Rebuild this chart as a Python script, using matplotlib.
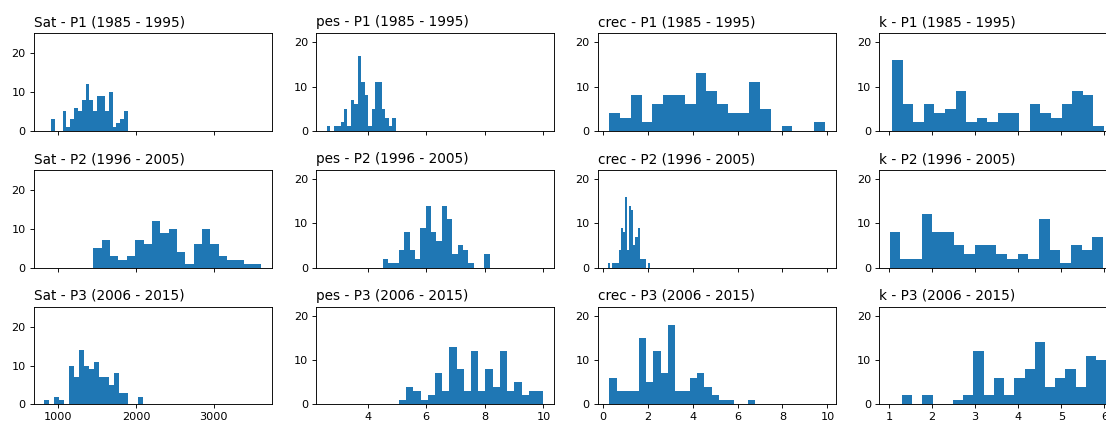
import matplotlib
matplotlib.use('Agg')
import matplotlib.pyplot as plt
import numpy as np

variables = ['Sat', 'pes', 'crec', 'k']
periods = ['P1 (1985 - 1995)', 'P2 (1996 - 2005)', 'P3 (2006 - 2015)']

# (min, max) of each sample and the 20 bin counts, per variable and period
sat_ranges = [(906, 1897), (1451, 3605), (820, 2094)]
sat_counts = [
    [3, 0, 0, 5, 1, 3, 6, 5, 8, 12, 8, 5, 9, 9, 5, 10, 1, 2, 3, 5],
    [5, 7, 3, 2, 3, 7, 6, 12, 9, 10, 4, 1, 6, 10, 6, 3, 2, 2, 1, 1],
    [1, 0, 2, 1, 0, 10, 7, 14, 10, 9, 11, 7, 7, 5, 8, 3, 3, 0, 0, 2],
]

pes_ranges = [(2.61, 4.96), (4.53, 8.16), (5.07, 9.99)]
pes_counts = [
    [1, 0, 1, 1, 2, 5, 1, 7, 6, 17, 11, 8, 1, 5, 11, 11, 5, 3, 1, 3],
    [2, 1, 1, 4, 8, 4, 2, 9, 14, 8, 6, 14, 11, 3, 5, 4, 1, 0, 0, 3],
    [1, 4, 3, 1, 2, 7, 3, 13, 8, 3, 12, 3, 8, 4, 12, 3, 5, 2, 3, 3],
]

crec_ranges = [(0.30, 9.88), (0.25, 2.11), (0.30, 6.80)]
crec_counts = [
    [4, 3, 8, 2, 6, 8, 8, 6, 13, 9, 6, 4, 4, 11, 5, 0, 1, 0, 0, 2],
    [1, 0, 1, 1, 1, 4, 9, 8, 16, 4, 14, 13, 5, 7, 9, 2, 2, 2, 0, 1],
    [6, 3, 3, 3, 15, 5, 12, 7, 18, 3, 3, 6, 7, 4, 2, 1, 1, 0, 0, 1],
]

k_ranges = [(1.076, 5.99), (1.023, 5.97), (1.305, 6.04)]
k_counts = [
    [16, 6, 2, 6, 4, 5, 9, 2, 3, 2, 4, 4, 0, 6, 4, 3, 6, 9, 8, 1],
    [8, 2, 2, 12, 8, 8, 5, 3, 5, 5, 3, 2, 3, 2, 11, 4, 1, 5, 4, 7],
    [2, 0, 2, 0, 0, 1, 2, 12, 2, 6, 2, 6, 8, 14, 4, 6, 8, 4, 11, 10],
]

xticks = [[1000, 2000, 3000], [4, 6, 8, 10], [0, 2, 4, 6, 8, 10], [1, 2, 3, 4, 5, 6]]

ranges = [sat_ranges, pes_ranges, crec_ranges, k_ranges]
counts = [sat_counts, pes_counts, crec_counts, k_counts]
ylims = [25.2, 22.05, 22.05, 22.05]

W, H = 1106, 421
fig = plt.figure(figsize=(W / 100, H / 100), dpi=100)

col_left = [33.5, 316, 597.5, 879]
row_top = [33.3, 170, 306.8]
ax_w, ax_h = 238, 97.5

for c, var in enumerate(variables):
    first = None
    for r, period in enumerate(periods):
        rect = [col_left[c] / W, 1 - (row_top[r] + ax_h) / H, ax_w / W, ax_h / H]
        ax = fig.add_axes(rect, sharex=first, sharey=first)
        if first is None:
            first = ax
        lo, hi = ranges[c][r]
        edges = np.linspace(lo, hi, len(counts[c][r]) + 1)
        ax.hist(edges[:-1], bins=edges, weights=counts[c][r], color='#1f77b4')
        ax.set_ylim(0, ylims[c])
        ax.set_yticks([0, 10, 20])
        ax.set_xticks(xticks[c])
        ax.set_title(f'{var} - {period}', loc='left', fontsize=9.8, pad=4.9)
        ax.tick_params(labelsize=8.1, length=2.85, width=0.65, pad=2.85)
        for s in ax.spines.values():
            s.set_linewidth(0.65)
        if r < 2:
            ax.tick_params(labelbottom=False)

fig.savefig('out.png', dpi=100)
